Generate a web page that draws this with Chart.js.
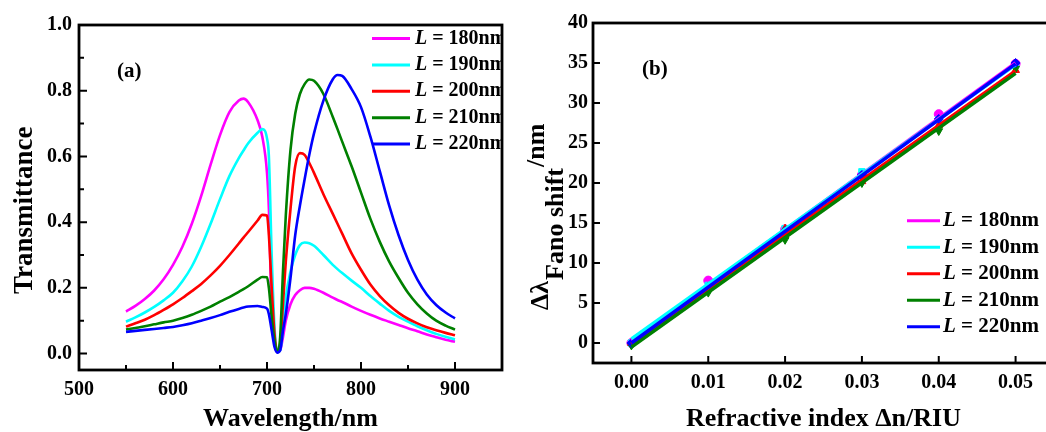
<!DOCTYPE html>
<html>
<head>
<meta charset="utf-8">
<script src="https://cdn.jsdelivr.net/npm/chart.js@4.4.0/dist/chart.umd.min.js"></script>
<style>
  html, body { margin: 0; padding: 0; background: #fff; overflow: hidden; }
  #wrapA { position: absolute; left: 0; top: 0; }
  #wrapB { position: absolute; left: 520px; top: 0; }
</style>
</head>
<body>
<div id="wrapA"><canvas id="chartA" width="520" height="432"></canvas></div>
<div id="wrapB"><canvas id="chartB" width="545" height="432"></canvas></div>
<script>
// panel (a) - transmittance spectra
const wavelength = [550,560,570,580,590,600,610,620,630,640,650,660,670,675,680,690,
                    695,700,702,705,708,711,714,717,720,725,730,735,740,745,750,
                    760,770,775,780,790,800,810,820,830,840,850,860,870,880,890,900];
const t180 = [.128,.145,.166,.192,.226,.27,.325,.395,.48,.575,.665,.735,.77,.776,.765,.71,
              .66,.55,.44,.12,.03,.005,.01,.05,.10,.15,.178,.193,.2,.2,.197,
              .185,.17,.163,.157,.143,.13,.118,.107,.097,.087,.077,.068,.058,.05,.042,.036];
const t190 = [.097,.11,.125,.142,.162,.185,.22,.265,.325,.395,.47,.54,.595,.618,.64,.672,
              .683,.655,.6,.3,.08,.005,.01,.08,.17,.25,.3,.33,.338,.336,.328,
              .3,.27,.257,.245,.222,.2,.175,.152,.13,.112,.097,.083,.071,.06,.051,.043];
const t200 = [.082,.092,.103,.117,.133,.15,.169,.19,.212,.238,.267,.3,.335,.353,.37,.405,
              .422,.42,.36,.2,.06,.005,.03,.15,.28,.44,.57,.61,.605,.58,.55,
              .485,.425,.395,.365,.305,.255,.21,.175,.147,.124,.106,.092,.08,.071,.063,.056];
const t210 = [.073,.078,.083,.089,.095,.1,.108,.118,.13,.143,.158,.172,.188,.196,.205,.225,
              .233,.232,.2,.11,.04,.005,.05,.25,.42,.62,.73,.79,.82,.834,.83,
              .79,.72,.683,.645,.57,.49,.41,.34,.28,.23,.185,.15,.122,.1,.085,.073];
const t220 = [.066,.069,.072,.075,.078,.081,.086,.092,.1,.108,.117,.127,.136,.14,.143,.145,
              .142,.137,.12,.07,.02,.003,.01,.07,.12,.23,.36,.45,.53,.605,.67,
              .77,.835,.848,.845,.805,.75,.66,.555,.45,.36,.285,.225,.18,.148,.125,.107];
const transTicks = [0.0, 0.2, 0.4, 0.6, 0.8, 1.0];
const waveTicks = [500, 600, 700, 800, 900];

// panel (b) - Fano shift vs refractive index
const deltaN = [0, 0.01, 0.02, 0.03, 0.04, 0.05];
const s180 = [0, 7.8, 14.2, 21.0, 28.6, 34.9];
const s190 = [0, 7.2, 14.3, 21.4, 27.9, 34.8];
const s200 = [0, 7.0, 14.3, 20.2, 27.2, 34.1];
const s210 = [-0.3, 6.3, 12.9, 20.0, 26.5, 34.3];
const s220 = [0, 7.0, 14.0, 21.0, 28.0, 35.0];
const fitX = [0, 0.05];
const fit180 = [0.3, 35.0];
const fit190 = [0.5, 34.8];
const fit200 = [-0.1, 34.0];
const fit210 = [-0.5, 33.7];
const fit220 = [0.0, 34.9];
const shiftTicks = [0, 5, 10, 15, 20, 25, 30, 35, 40];
const dnTicks = [0.00, 0.01, 0.02, 0.03, 0.04, 0.05];

const lengths = ['180nm', '190nm', '200nm', '210nm', '220nm'];
const colors = ['#ff00ff', '#00ffff', '#ff0000', '#008000', '#0000ff'];
const markers = ['circle', 'rect', 'triangle', 'triangle', 'rectRot'];

const FONT = '"Liberation Serif", "Times New Roman", serif';

// box + inward ticks
const framePlugin = {
  id: 'frame',
  afterDatasetsDraw(chart, args, o) {
    const ctx = chart.ctx, a = chart.chartArea;
    const x = chart.scales.x, y = chart.scales.y;
    ctx.save();
    ctx.strokeStyle = '#000';
    ctx.lineWidth = 2;
    ctx.beginPath();
    o.xMajor.forEach(v => { const p = x.getPixelForValue(v); ctx.moveTo(p, a.bottom); ctx.lineTo(p, a.bottom - o.major); });
    o.xMinor.forEach(v => { const p = x.getPixelForValue(v); ctx.moveTo(p, a.bottom); ctx.lineTo(p, a.bottom - o.minor); });
    o.yMajor.forEach(v => { const p = y.getPixelForValue(v); ctx.moveTo(a.left, p); ctx.lineTo(a.left + o.major, p); });
    o.yMinor.forEach(v => { const p = y.getPixelForValue(v); ctx.moveTo(a.left, p); ctx.lineTo(a.left + o.minor, p); });
    ctx.stroke();
    ctx.lineWidth = 2.8;
    ctx.strokeRect(a.left, a.top, a.right - a.left, a.bottom - a.top);
    ctx.restore();
  }
};

// legend inside the plot, panel tag, y title (with sub/superscript parts)
const innerLegend = {
  id: 'innerLegend',
  afterDraw(chart, args, o) {
    const ctx = chart.ctx, a = chart.chartArea;
    ctx.save();
    ctx.beginPath();
    ctx.rect(a.left, a.top, a.right - a.left - 1, a.bottom - a.top);
    ctx.clip();
    ctx.textBaseline = 'middle';
    ctx.textAlign = 'left';
    chart.data.datasets.filter(d => d.inLegend).forEach((d, i) => {
      const yy = o.top + i * o.row;
      ctx.strokeStyle = d.borderColor;
      ctx.lineWidth = 3;
      ctx.beginPath();
      ctx.moveTo(o.left, yy);
      ctx.lineTo(o.left + o.len, yy);
      ctx.stroke();
      ctx.fillStyle = '#000';
      let tx = o.left + o.len + o.gap;
      ctx.font = 'italic bold ' + o.size + 'px ' + FONT;
      ctx.fillText('L', tx, yy);
      tx += ctx.measureText('L').width;
      ctx.font = 'bold ' + o.size + 'px ' + FONT;
      ctx.fillText(' = ' + d.label, tx, yy);
    });
    ctx.font = 'bold 21px ' + FONT;
    ctx.fillStyle = '#000';
    ctx.fillText(o.tag, o.tagX, o.tagY);
    ctx.restore();

    const t = o.yTitle;
    ctx.save();
    ctx.fillStyle = '#000';
    ctx.translate(t.x, t.y);
    ctx.rotate(-Math.PI / 2);
    ctx.textBaseline = 'alphabetic';
    ctx.textAlign = 'left';
    ctx.font = 'bold ' + t.size + 'px ' + FONT;
    let w = 0;
    t.parts.forEach(p => {
      ctx.fillText(p.text, w, p.dy);
      w += ctx.measureText(p.text).width + 1;
    });
    ctx.restore();
  }
};

function midpoints(arr) {
  const out = [];
  for (let i = 0; i < arr.length - 1; i++) out.push((arr[i] + arr[i + 1]) / 2);
  return out;
}

function axisFont(size) {
  return { family: FONT, weight: 'bold', size: size };
}

// ---------- chart (a) ----------
const transSeries = [t180, t190, t200, t210, t220];
const dataA = {
  datasets: lengths.map((name, i) => ({
    label: name,
    data: wavelength.map((w, k) => ({ x: w, y: transSeries[i][k] })),
    borderColor: colors[i],
    borderWidth: 2.6,
    pointRadius: 0,
    cubicInterpolationMode: 'monotone',
    order: 5 - i,
    inLegend: true
  }))
};

new Chart(document.getElementById('chartA'), {
  type: 'line',
  data: dataA,
  options: {
    responsive: false,
    animation: false,
    layout: { padding: { top: 25, right: 18, left: 0, bottom: 0 } },
    plugins: {
      legend: { display: false },
      tooltip: { enabled: false },
      frame: {
        xMajor: waveTicks, xMinor: midpoints(waveTicks.concat([1000])),
        yMajor: transTicks, yMinor: midpoints(transTicks),
        major: 8, minor: 5
      },
      innerLegend: {
        left: 372, len: 38, gap: 5, top: 38.5, row: 26.4, size: 20, tag: '(a)', tagX: 117, tagY: 72,
        yTitle: { x: 32, y: 294, size: 27, parts: [{ text: 'Transmittance', dy: 0 }] }
      }
    },
    scales: {
      x: {
        type: 'linear', min: 500, max: 950,
        afterBuildTicks: s => { s.ticks = waveTicks.map(v => ({ value: v })); },
        afterFit: s => { s.height = 62; },
        grid: { display: false, drawTicks: false },
        border: { display: false },
        ticks: { color: '#000', font: axisFont(20), padding: 8, autoSkip: false, maxRotation: 0, callback: v => String(v) },
        title: { display: true, text: 'Wavelength/nm', color: '#000', font: axisFont(26), padding: { top: 0, bottom: -3 } }
      },
      y: {
        type: 'linear', min: -0.05, max: 1.0,
        afterBuildTicks: s => { s.ticks = transTicks.map(v => ({ value: v })); },
        afterFit: s => { s.width = 79; },
        grid: { display: false, drawTicks: false },
        border: { display: false },
        ticks: { color: '#000', font: axisFont(20), padding: 7, autoSkip: false, callback: v => v.toFixed(1) }
      }
    }
  },
  plugins: [framePlugin, innerLegend]
});

// ---------- chart (b) ----------
const shiftSeries = [s180, s190, s200, s210, s220];
const fitSeries = [fit180, fit190, fit200, fit210, fit220];
const datasetsB = [];
lengths.forEach((name, i) => {
  datasetsB.push({
    label: name + ' data',
    data: deltaN.map((x, k) => ({ x: x, y: shiftSeries[i][k] })),
    showLine: false,
    pointStyle: markers[i],
    rotation: i === 3 ? 180 : 0,
    pointRadius: 4.5,
    pointBackgroundColor: colors[i],
    pointBorderColor: colors[i],
    borderColor: colors[i],
    order: 20 - i
  });
  datasetsB.push({
    label: name,
    data: fitX.map((x, k) => ({ x: x, y: fitSeries[i][k] })),
    borderColor: colors[i],
    borderWidth: 3.5,
    pointRadius: 0,
    order: 10 - i,
    inLegend: true
  });
});

new Chart(document.getElementById('chartB'), {
  type: 'line',
  data: { datasets: datasetsB },
  options: {
    responsive: false,
    animation: false,
    layout: { padding: { top: 23, right: 11, left: 0, bottom: 0 } },
    plugins: {
      legend: { display: false },
      tooltip: { enabled: false },
      frame: { xMajor: dnTicks, xMinor: [], yMajor: shiftTicks, yMinor: [], major: 7, minor: 0 },
      innerLegend: {
        left: 387, len: 33, gap: 3, top: 220.7, row: 26.5, size: 21, tag: '(b)', tagX: 122, tagY: 70,
        yTitle: { x: 28, y: 310, size: 26, parts: [
          { text: 'Δλ', dy: 0 }, { text: 'Fano shift', dy: 15 }, { text: '/nm', dy: -4 }
        ] }
      }
    },
    scales: {
      x: {
        type: 'linear', min: -0.005, max: 0.055,
        afterBuildTicks: s => { s.ticks = dnTicks.map(v => ({ value: v })); },
        afterFit: s => { s.height = 69; },
        grid: { display: false, drawTicks: false },
        border: { display: false },
        ticks: { color: '#000', font: axisFont(20), padding: 8, autoSkip: false, maxRotation: 0, callback: v => v.toFixed(2) },
        title: { display: true, text: 'Refractive index Δn/RIU', color: '#000', font: axisFont(26), padding: { top: 0, bottom: -3 } }
      },
      y: {
        type: 'linear', min: -2.5, max: 40,
        afterBuildTicks: s => { s.ticks = shiftTicks.map(v => ({ value: v })); },
        afterFit: s => { s.width = 73; },
        grid: { display: false, drawTicks: false },
        border: { display: false },
        ticks: { color: '#000', font: axisFont(20), padding: 5, autoSkip: false, callback: v => String(v) }
      }
    }
  },
  plugins: [framePlugin, innerLegend]
});
</script>
</body>
</html>
